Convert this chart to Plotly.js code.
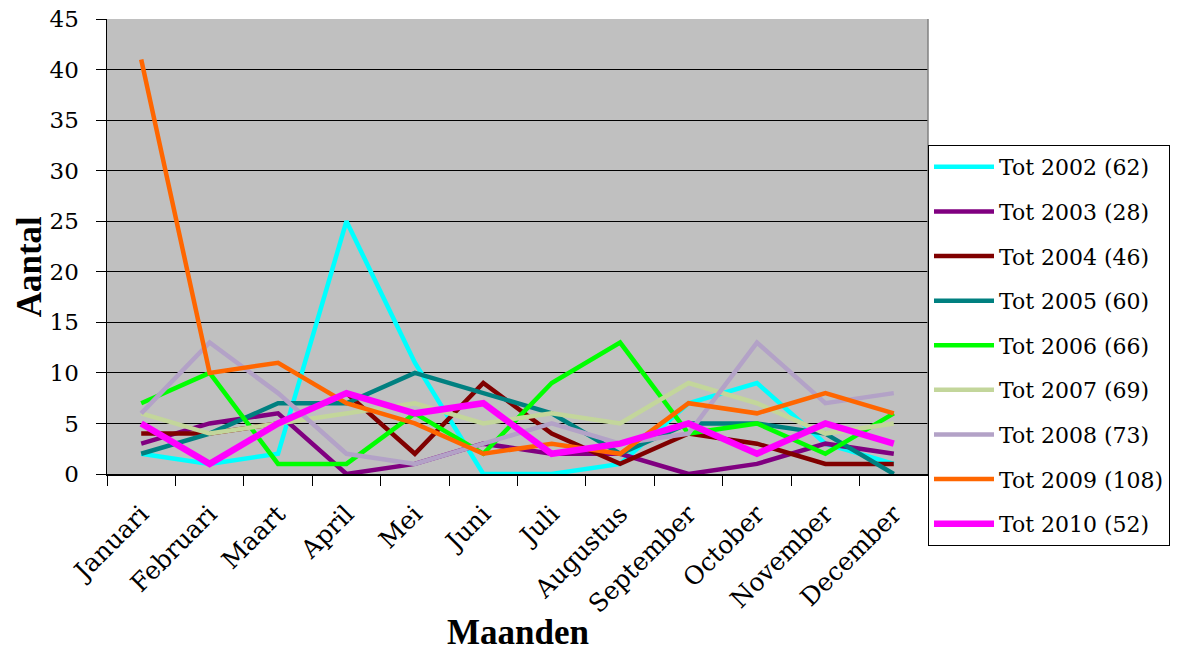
<!DOCTYPE html>
<html>
<head>
<meta charset="utf-8">
<script src="https://cdn.plot.ly/plotly-3.0.1.min.js"></script>
<style>html,body{margin:0;padding:0;background:#fff;}#chart{width:1182px;height:651px;}</style>
</head>
<body>
<div id="chart"></div>
<script>
const months = ["Januari","Februari","Maart","April","Mei","Juni","Juli","Augustus","September","October","November","December"];
const seriesNames = ["Tot 2002 (62)","Tot 2003 (28)","Tot 2004 (46)","Tot 2005 (60)","Tot 2006 (66)","Tot 2007 (69)","Tot 2008 (73)","Tot 2009 (108)","Tot 2010 (52)"];
const tot2002 = [2,1,2,25,11,0,0,1,7,9,3,1];
const tot2003 = [3,5,6,0,1,3,2,2,0,1,3,2];
const tot2004 = [4,4,5,8,2,9,4,1,4,3,1,1];
const tot2005 = [2,4,7,7,10,8,6,2,5,5,4,0];
const tot2006 = [7,10,1,1,6,2,9,13,4,5,2,6];
const tot2007 = [6,4,5,6,7,5,6,5,9,7,4,5];
const tot2008 = [6,13,8,2,1,3,5,3,4,13,7,8];
const tot2009 = [41,10,11,7,5,2,3,2,7,6,8,6];
const tot2010 = [5,1,5,8,6,7,2,3,5,2,5,3];
const yTicks = [0,5,10,15,20,25,30,35,40,45];
const xTitle = "Maanden";
const yTitle = "Aantal";

const allValues = [tot2002,tot2003,tot2004,tot2005,tot2006,tot2007,tot2008,tot2009,tot2010];
const colors = ["#00FFFF","#800080","#800000","#008080","#00FF00","#C3D69B","#B3A2C7","#FF6600","#FF00FF"];
const widths = [4.5,4.5,4.5,4.5,4.5,4.5,4.5,4.5,6.5];

const traces = allValues.map((vals,i)=>({
  type:"scatter", mode:"lines", x:months, y:vals, name:seriesNames[i],
  legendgroup:"g"+i,
  line:{color:colors[i], width:widths[i]},
  hoverinfo:"x+y+name"
}));

const serif = "'DejaVu Serif', 'Liberation Serif', serif";
const titleSerif = "'Liberation Serif', 'DejaVu Serif', serif";
const layout = {
  width:1182, height:651,
  margin:{l:107, r:251, t:19, b:177},
  paper_bgcolor:"#ffffff",
  plot_bgcolor:"#C0C0C0",
  font:{family:serif, color:"#000"},
  showlegend:true,
  legend:{
    x:1.0, xanchor:"left", y:0.723, yanchor:"top",
    bgcolor:"#ffffff", bordercolor:"#000", borderwidth:1,
    font:{family:serif, size:22, color:"#000"},
    tracegroupgap:13, itemwidth:60
  },
  xaxis:{
    type:"category", range:[-0.5,11.5],
    tickson:"boundaries", ticks:"outside", ticklen:10, tickcolor:"#000", tickwidth:1,
    ticklabelstandoff:14,
    tickangle:-45, tickfont:{family:serif, size:25, color:"#000"},
    showline:true, linecolor:"#000", linewidth:1.5,
    showgrid:false, zeroline:false
  },
  yaxis:{
    range:[0,45], tickvals:yTicks, ticktext:yTicks.map(String),
    ticks:"outside", ticklen:10, tickcolor:"#000",
    ticklabelstandoff:12,
    tickfont:{family:serif, size:23, color:"#000"},
    showline:true, linecolor:"#000", linewidth:1.5,
    showgrid:true, gridcolor:"#000", gridwidth:1.2,
    zeroline:false
  },
  annotations:[
    {text:"<b>"+xTitle+"</b>", xref:"paper", yref:"paper", x:0.5, y:-0.349, xanchor:"center", yanchor:"middle",
     showarrow:false, font:{family:titleSerif, size:35, color:"#000"}},
    {text:"<b>"+yTitle+"</b>", xref:"paper", yref:"paper", x:-0.0934, y:0.455, xanchor:"center", yanchor:"middle",
     textangle:-90, showarrow:false, font:{family:titleSerif, size:35, color:"#000"}}
  ],
  shapes:[
    {type:"line", xref:"paper", yref:"paper", x0:1, x1:1, y0:0, y1:1, line:{color:"#808080", width:1.5}}
  ]
};

Plotly.newPlot("chart", traces, layout, {displayModeBar:false, staticPlot:true});
</script>
</body>
</html>
